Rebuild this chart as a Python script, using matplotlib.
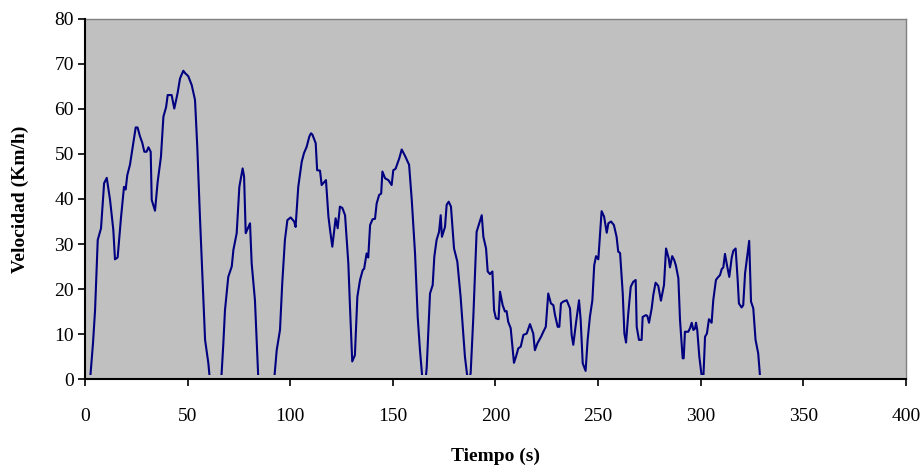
import matplotlib
matplotlib.use("Agg")
import matplotlib.pyplot as plt

# Datos (tiempo en s, velocidad en km/h)
tiempo = [2.5, 3.9, 4.9, 6.2, 7.8, 9.3, 10.6, 12.2, 13.8, 14.6, 15.9, 17.5, 19.0, 19.8,
          20.6, 21.9, 23.0, 24.7, 25.6, 26.8, 27.9, 28.9, 30.0, 30.9, 32.0, 32.5, 34.1,
          35.4, 37.0, 38.2, 39.5, 40.3, 42.2, 43.5, 45.1, 46.3, 47.9, 48.7, 50.3, 52.0,
          53.6, 54.7, 56.0, 57.2, 58.5, 60.1, 60.8, 66.4, 67.4, 68.2, 69.8, 71.5, 72.3,
          73.9, 75.2, 76.8, 77.5, 78.3, 80.4, 81.2, 82.8, 84.4, 84.8, 92.2, 93.4, 95.0,
          96.1, 97.4, 98.6, 100.2, 101.9, 102.6, 103.9, 105.6, 106.7, 108.0, 109.3, 110.1,
          110.8, 112.4, 113.1, 114.5, 115.3, 117.4, 118.6, 119.4, 120.5, 122.1, 123.1,
          124.2, 125.4, 126.7, 128.3, 129.1, 130.2, 131.5, 132.7, 134.0, 135.3, 136.0,
          137.2, 138.0, 138.9, 140.1, 141.3, 142.1, 143.3, 144.3, 144.9, 146.2, 147.8,
          149.4, 150.2, 151.3, 153.1, 154.3, 155.9, 157.9, 159.2, 160.8, 162.1, 163.2,
          164.3, 164.8, 166.0, 166.5, 168.1, 169.4, 170.2, 171.3, 172.5, 173.3, 173.9,
          175.4, 176.2, 177.2, 178.3, 179.8, 181.4, 183.0, 185.1, 186.4, 187.2, 187.9,
          189.2, 190.8, 192.1, 193.3, 194.1, 195.4, 196.2, 197.3, 198.5, 199.3, 200.2,
          201.5, 202.2, 203.5, 204.6, 205.4, 206.2, 207.4, 209.0, 210.0, 211.1, 212.3,
          213.6, 215.2, 216.8, 218.4, 219.2, 220.4, 222.2, 223.3, 224.5, 225.7, 227.0,
          228.2, 229.0, 230.3, 231.1, 231.9, 233.0, 234.7, 236.3, 237.1, 237.9, 239.2,
          240.7, 241.5, 242.5, 243.9, 244.9, 246.0, 247.2, 248.1, 249.0, 250.1, 251.7,
          252.9, 254.2, 255.0, 256.3, 257.7, 259.0, 259.8, 260.7, 262.0, 262.8, 263.6,
          264.7, 265.9, 267.1, 268.3, 268.8, 269.9, 271.2, 271.7, 273.3, 274.0, 274.8,
          276.1, 276.9, 278.0, 279.3, 280.6, 282.1, 283.1, 284.4, 285.0, 286.1, 287.1,
          287.9, 289.1, 289.9, 291.2, 291.7, 292.3, 293.9, 294.8, 295.6, 296.4, 297.2,
          297.7, 298.3, 299.3, 300.5, 301.3, 302.1, 303.0, 304.0, 305.3, 306.1, 307.4,
          308.2, 309.4, 310.2, 311.0, 311.8, 312.9, 313.9, 315.1, 315.9, 317.0, 318.0,
          318.6, 319.9, 320.7, 321.6, 322.9, 323.6, 324.5, 325.6, 326.7, 328.0, 328.9,
          329.3]
velocidad = [0, 8, 15.3, 30.9, 33.5, 43.5, 44.7, 39.8, 33.1, 26.6, 27.0, 35.7, 42.7, 42.1,
             45.3, 47.6, 50.9, 55.9, 55.9, 53.9, 52.5, 50.5, 50.5, 51.5, 50.5, 39.8, 37.4,
             43.8, 49.4, 58.3, 60.4, 63.1, 63.1, 60.1, 63.5, 66.8, 68.5, 68.0, 67.3, 65.3,
             62.0, 51.6, 36.0, 22.7, 8.7, 3.5, 0, 0, 7.9, 15.3, 22.7, 25.0, 28.7,
             32.4, 42.7, 46.8, 45.0, 32.4, 34.6, 25.7, 17.5, 0.5, 0, 0, 6.4, 10.9,
             21.3, 30.9, 35.3, 35.9, 35.0, 33.8, 42.7, 48.3, 50.2, 51.6, 53.9, 54.6,
             54.3, 52.4, 46.4, 46.3, 43.1, 44.2, 36.1, 33.1, 29.4, 35.7, 33.5,
             38.3, 38.0, 36.4, 25.7, 16.1, 3.9, 5.3, 18.3, 22.0, 24.2, 24.5,
             27.9, 27.0, 34.2, 35.5, 35.6, 39.0, 40.9, 41.2, 46.1, 44.6, 44.2,
             43.1, 46.4, 46.7, 49.0, 51.0, 49.6, 47.6, 39.8, 27.9, 13.8, 6.4,
             0.5, 0, 0, 2.7, 19.0, 20.9, 27.2, 30.9, 32.7, 36.4, 31.6,
             33.8, 38.7, 39.4, 38.3, 29.0, 26.1, 18.3, 5.0, 0, 0, 1.3,
             13.8, 32.7, 34.6, 36.4, 31.6, 29.0, 23.9, 23.3, 23.9, 15.3, 13.5,
             13.3, 19.4, 16.4, 15.0, 15.1, 12.7, 11.3, 3.6, 5.0, 6.8, 7.2,
             9.8, 10.1, 12.2, 10.1, 6.4, 7.9, 9.4, 10.5, 11.6, 19.0, 16.8,
             16.4, 14.2, 11.6, 11.6, 16.8, 17.2, 17.5, 15.7, 9.8, 7.6, 12.4,
             17.5, 13.1, 3.5, 1.8, 8.7, 13.8, 17.5, 25.3, 27.3, 26.6, 37.3,
             36.1, 32.5, 34.6, 35.0, 34.2, 31.6, 28.3, 28.0, 19.0, 10.1, 8.1,
             14.6, 20.5, 21.6, 22.0, 11.6, 8.7, 8.7, 13.8, 14.2, 14.0, 12.5,
             15.7, 18.7, 21.4, 20.7, 17.4, 20.9, 29.0, 26.8, 24.8, 27.3, 26.4,
             25.2, 22.4, 13.1, 4.6, 4.6, 10.5, 10.5, 11.3, 12.5, 10.9, 11.2,
             12.5, 10.9, 5.0, 0.5, 0.5, 9.4, 10.1, 13.3, 12.5, 17.5, 22.0,
             22.5, 23.1, 24.4, 24.8, 27.8, 25.0, 22.7, 27.0, 28.5, 29.0, 22.0,
             16.8, 15.9, 16.4, 23.5, 28.3, 30.7, 17.2, 15.7, 8.7, 5.7, 0.5,
             0]

x_ticks = [0, 50, 100, 150, 200, 250, 300, 350, 400]
y_ticks = [0, 10, 20, 30, 40, 50, 60, 70, 80]

plt.rcParams['font.family'] = ['Liberation Serif', 'DejaVu Serif']

fig = plt.figure(figsize=(9.24, 4.71), dpi=100)
ax = fig.add_axes([0.092, 0.1953, 0.8885, 0.7644])
ax.set_facecolor('#c0c0c0')

ax.plot(tiempo, velocidad, color='#000080', linewidth=1.5, zorder=2)
# franja junto al eje: el original no muestra la linea pegada a cero
ax.axhspan(0, 0.8, color='#c0c0c0', zorder=3, linewidth=0)

ax.set_xlim(0, 400)
ax.set_ylim(0, 80)
ax.set_xticks(x_ticks)
ax.set_yticks(y_ticks)
ax.tick_params(axis='x', direction='out', length=5, width=1.2, pad=16, labelsize=14)
ax.tick_params(axis='y', direction='out', length=5, width=1.2, pad=3, labelsize=14)

for s in ['top', 'right']:
    ax.spines[s].set_color('#808080')
    ax.spines[s].set_linewidth(1.0)
for s in ['left', 'bottom']:
    ax.spines[s].set_color('black')
    ax.spines[s].set_linewidth(1.5)
    ax.spines[s].set_zorder(4)

ax.set_xlabel('Tiempo (s)', fontsize=14, fontweight='bold', labelpad=16)
ax.set_ylabel('Velocidad (Km/h)', fontsize=14, fontweight='bold', labelpad=18)

fig.savefig('out.png', dpi=100)
